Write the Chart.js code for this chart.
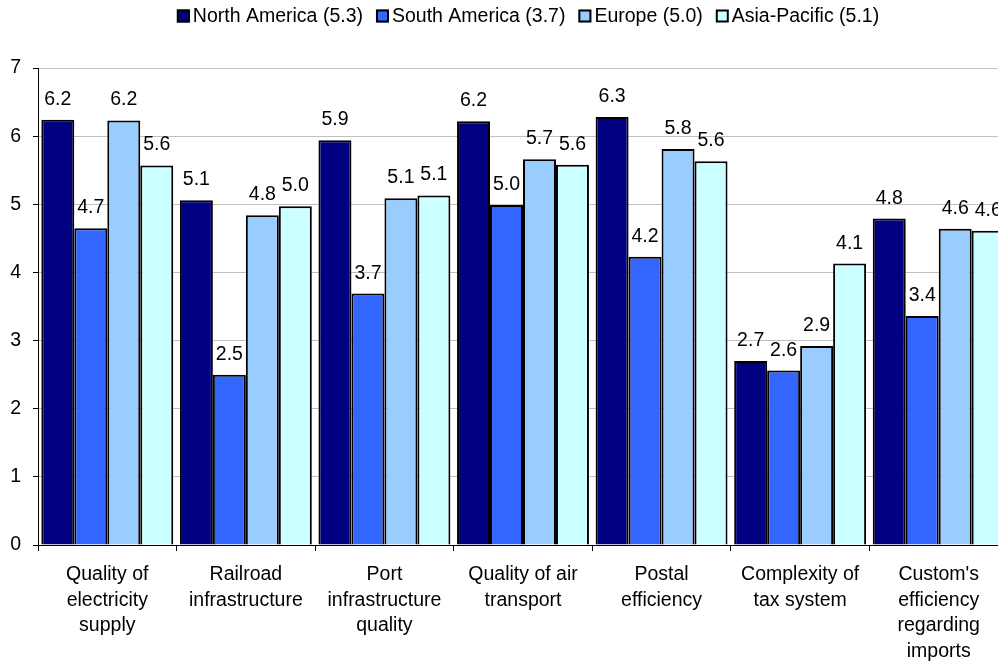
<!DOCTYPE html>
<html>
<head>
<meta charset="utf-8">
<script src="https://cdn.jsdelivr.net/npm/chart.js@4.4.0/dist/chart.umd.min.js"></script>
<style>
  html, body { margin: 0; padding: 0; background: #fff; overflow: hidden; }
</style>
</head>
<body>
<canvas id="myChart" width="1056" height="661"></canvas>
<script>
//Data_
const categories = [
    ['Quality of', 'electricity', 'supply'],
    ['Railroad', 'infrastructure'],
    ['Port', 'infrastructure', 'quality'],
    ['Quality of air', 'transport'],
    ['Postal', 'efficiency'],
    ['Complexity of', 'tax system'],
    ["Custom's", 'efficiency', 'regarding', 'imports']
];
const seriesNames = ['North America (5.3)', 'South America (3.7)', 'Europe (5.0)', 'Asia-Pacific (5.1)'];
const northAmerica = [6.24, 5.06, 5.94, 6.22, 6.28, 2.70, 4.79];
const southAmerica = [4.65, 2.50, 3.69, 4.99, 4.23, 2.56, 3.36];
const europe = [6.23, 4.84, 5.09, 5.66, 5.81, 2.92, 4.64];
const asiaPacific = [5.57, 4.97, 5.13, 5.58, 5.63, 4.13, 4.61];
const yTicks = [0, 1, 2, 3, 4, 5, 6, 7];

const colors = ['#000080', '#3366FF', '#99CCFF', '#CCFFFF'];
const font = 'Liberation Sans, Arial, sans-serif';

//Plugins_
// legend drawn by hand: small boxes sitting right next to the text
const topLegend = {
    id: 'topLegend',
    afterDraw(chart) {
        const ctx = chart.ctx;
        const box = 13, gap = 3, spacing = 13, y = 16;
        ctx.save();
        ctx.font = '19.5px ' + font;
        ctx.textBaseline = 'middle';
        ctx.textAlign = 'left';
        const items = chart.data.datasets.map(ds => ({
            text: ds.label,
            color: ds.backgroundColor,
            w: ctx.measureText(ds.label).width
        }));
        const total = items.reduce((s, it) => s + box + gap + it.w, 0) + spacing * (items.length - 1);
        let x = chart.width / 2 - total / 2;
        items.forEach(it => {
            ctx.fillStyle = it.color;
            ctx.fillRect(x, y - box / 2, box, box);
            ctx.lineWidth = 2;
            ctx.strokeStyle = '#000';
            ctx.strokeRect(x + 1, y - box / 2 + 1, box - 2, box - 2);
            ctx.fillStyle = '#000';
            ctx.fillText(it.text, x + box + gap, y + 1);
            x += box + gap + it.w + spacing;
        });
        ctx.restore();
    }
};

const barLabels = {
    id: 'barLabels',
    afterDatasetsDraw(chart) {
        const ctx = chart.ctx;
        ctx.save();
        ctx.font = '19.5px ' + font;
        ctx.fillStyle = '#000';
        ctx.textAlign = 'center';
        ctx.textBaseline = 'alphabetic';
        chart.data.datasets.forEach((ds, i) => {
            chart.getDatasetMeta(i).data.forEach((bar, j) => {
                ctx.fillText(ds.data[j].toFixed(1), bar.x, bar.y - 15);
            });
        });
        ctx.restore();
    }
};

//Chart_
const allSeries = [northAmerica, southAmerica, europe, asiaPacific];
const datasets = allSeries.map((values, i) => ({
    label: seriesNames[i],
    data: values,
    backgroundColor: colors[i],
    borderColor: '#000',
    borderWidth: 2,
    categoryPercentage: 0.952,
    barPercentage: 1
}));

const config = {
    type: 'bar',
    data: { labels: categories, datasets: datasets },
    options: {
        responsive: false,
        animation: false,
        layout: { padding: { left: 0, right: 48, top: 68, bottom: 0 } },
        plugins: {
            legend: { display: false },
            tooltip: { enabled: false }
        },
        scales: {
            x: {
                offset: true,
                grid: {
                    offset: true,
                    drawOnChartArea: false,
                    color: '#000',
                    tickLength: 6
                },
                border: { color: '#000', width: 1 },
                ticks: {
                    color: '#000',
                    padding: 11,
                    maxRotation: 0,
                    autoSkip: false,
                    font: { family: font, size: 19.5, lineHeight: 1.31 }
                },
                afterFit(axis) { axis.height = 116; }
            },
            y: {
                min: 0,
                max: 7,
                afterBuildTicks(axis) { axis.ticks = yTicks.map(v => ({ value: v })); },
                grid: {
                    color: '#c0c0c0',
                    tickColor: '#000',
                    tickLength: 5
                },
                border: { color: '#000', width: 1 },
                ticks: {
                    color: '#000',
                    padding: 12,
                    font: { family: font, size: 19.5 }
                },
                afterFit(axis) { axis.width = 38; }
            }
        }
    },
    plugins: [topLegend, barLabels]
};

const chart = new Chart(document.getElementById('myChart'), config);
</script>
</body>
</html>
